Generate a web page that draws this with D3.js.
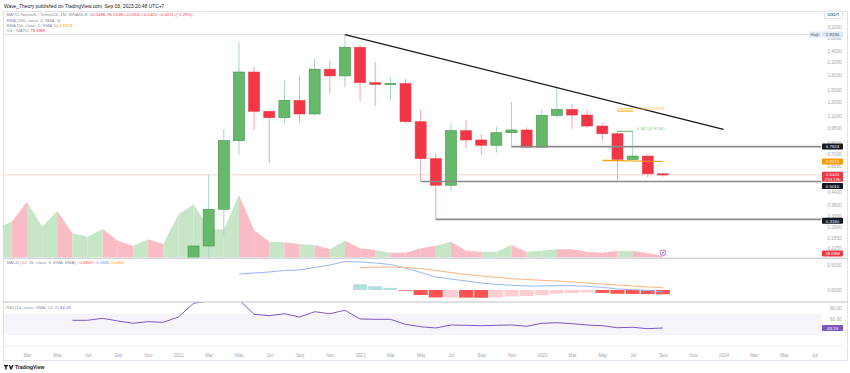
<!DOCTYPE html>
<html>
<head>
<meta charset="utf-8">
<script src="https://d3js.org/d3.v7.min.js"></script>
<style>
body { margin: 0; background: #fff; }
svg text { font-family: "Liberation Sans", Arial, sans-serif; }
.ax path, .ax line { display: none; }
</style>
</head>
<body>
<script>
// monthly bars, Jan 2020 .. Sep 2023 (index 0..44)
var months = ["2020-01","2020-02","2020-03","2020-04","2020-05","2020-06","2020-07","2020-08","2020-09","2020-10","2020-11","2020-12",
  "2021-01","2021-02","2021-03","2021-04","2021-05","2021-06","2021-07","2021-08","2021-09","2021-10","2021-11","2021-12",
  "2022-01","2022-02","2022-03","2022-04","2022-05","2022-06","2022-07","2022-08","2022-09","2022-10","2022-11","2022-12",
  "2023-01","2023-02","2023-03","2023-04","2023-05","2023-06","2023-07","2023-08","2023-09"];
var open  = [0.0146,0.0195,0.0200,0.0105,0.0142,0.0180,0.0160,0.0220,0.0290,0.0210,0.0140,0.0190,
  0.0180,0.038,0.231,0.359,0.818,1.865,1.164,1.078,1.328,1.127,1.93,1.78,
  2.51,1.64,1.608,1.625,1.027,0.659,0.479,0.922,0.825,0.774,0.90,0.93,
  0.757,1.109,1.19,1.113,0.975,0.889,0.654,0.68,0.5496];
var high  = [0.022,0.029,0.021,0.015,0.021,0.020,0.023,0.033,0.030,0.022,0.022,0.022,
  0.045,0.232,0.542,0.941,2.68,1.98,1.17,1.69,1.785,2.20,2.14,2.923,
  2.58,2.10,1.75,1.72,1.18,0.70,1.007,1.05,0.888,0.97,1.30,0.96,
  1.19,1.55,1.27,1.19,1.01,0.90,0.9138,0.70,0.5538];
var low   = [0.014,0.018,0.0065,0.0095,0.013,0.015,0.015,0.021,0.018,0.013,0.013,0.015,
  0.016,0.036,0.17,0.261,0.689,0.93,0.623,1.008,1.02,1.10,1.444,1.55,
  1.306,1.245,1.32,1.008,0.501,0.318,0.449,0.749,0.688,0.71,0.7624,0.745,
  0.75,1.074,0.942,0.95,0.818,0.506,0.65,0.525,0.5313];
var close = [0.0195,0.0200,0.0105,0.0142,0.0180,0.0160,0.0220,0.0290,0.0210,0.0140,0.0190,0.0180,
  0.038,0.231,0.359,0.818,1.865,1.164,1.078,1.328,1.127,1.93,1.78,2.51,
  1.64,1.608,1.625,1.027,0.659,0.479,0.922,0.825,0.774,0.90,0.93,0.757,
  1.109,1.19,1.113,0.975,0.889,0.654,0.68,0.5496,0.5425];
// volume, millions of MATIC
var volume = [1475,1790,2790,1540,2325,1210,1040,1425,840,575,910,675,
  2150,2650,1475,1400,3125,1375,790,760,660,625,410,840,
  460,375,240,240,460,590,790,340,290,290,625,290,
  340,410,410,290,240,340,340,210,78.69];

// EMA 50 starts May 2023 (index 40)
var emaFrom = 40;
var ema50 = [0.646,0.644,0.641,0.639,0.6374];

// MACD line from May 2021 (16), signal + histogram from Jan 2022 (24)
var macdFrom = 16;
var macdLine = [0.32,0.34,0.36,0.39,0.40,0.45,0.50,0.57,
  0.56,0.54,0.51,0.44,0.35,0.26,0.22,0.18,0.14,0.114,0.094,0.08,
  0.08,0.086,0.086,0.074,0.054,0.02,0.006,-0.01,-0.0395];
var sigFrom = 24;
var signalLine = [0.446,0.456,0.46,0.45,0.43,0.39,0.35,0.31,0.28,0.254,0.226,0.21,
  0.194,0.18,0.16,0.14,0.12,0.10,0.08,0.06,0.0454];
var histo = [0.114,0.075,0.042,-0.015,-0.10,-0.15,-0.15,-0.152,-0.155,-0.15,-0.13,-0.12,
  -0.105,-0.075,-0.06,-0.048,-0.058,-0.075,-0.078,-0.082,-0.0849];

// RSI from Jun 2020 (5)
var rsiFrom = 5;
var rsi = [57.6,57.6,61.3,56.3,52.0,55.0,53.8,
  63.7,89.3,93.5,95.2,96.0,68.8,66.2,69.9,63.7,73.6,69.9,76.3,
  60.0,59.4,59.4,50.1,45.6,43.2,48.8,48.2,47.5,48.2,48.8,46.4,
  52.0,53.1,51.2,48.8,47.5,43.7,44.5,41.9,43.19];

// drawings
var trendLine = [{i: 23, p: 2.923}, {i: 48, p: 0.937}];
var levels = [{i: 34, p: 0.7624, t: "0.7624"}, {i: 28, p: 0.5010, t: "0.5010"}, {i: 29, p: 0.3180, t: "0.3180"}];
var fibLevels = [{r: "0.382", p: 0.9138, c: "#81c784", label: true},
                 {r: "0.618", p: 1.1659, c: "#f5b83d", label: true},
                 {r: "0.65", p: 1.2, c: "#f5c94a", label: false}];
var fibFrom = 41, fibTo = 42;

// 0.5000 sits behind the last-price tags, so it is left out
var priceTicks = [3.2,2.8,2.4,2.1,1.8,1.5,1.3,1.1,0.95,0.8,0.7,0.6,0.44,0.38,0.33,0.29,0.255,0.225];
var timeLabels = ["Mar","May","Jul","Sep","Nov","2021","Mar","May","Jul","Sep","Nov","2022","Mar","May","Jul","Sep","Nov",
  "2023","Mar","May","Jul","Sep","Nov","2024","Mar","May","Jul"];

var paneL = 3, paneR = 821;

var svg = d3.select("body").append("svg").attr("width", 850).attr("height", 373);

var x = d3.scaleLinear().domain([0, 44]).range([-3.3, 662.9]);
var y = d3.scaleLog().domain([0.2, 3.4]).range([258, 22]);
var yVol = d3.scaleLinear().domain([0, 3125]).range([257.5, 195]);
var yMacd = d3.scaleLinear().domain([-0.2, 0.7]).range([300, 255]);
var yRsi = d3.scaleLinear().domain([30, 80]).range([335.05, 308.3]);

var defs = svg.append("defs");
function clip(id, y0, y1) {
  defs.append("clipPath").attr("id", id).append("rect")
    .attr("x", paneL).attr("y", y0).attr("width", paneR - paneL).attr("height", y1 - y0);
}
clip("cMain", 12, 257.5);
clip("cMacd", 259, 301.5);
clip("cRsi", 302.5, 345);

// frame + separators
svg.append("rect").attr("x", 3.5).attr("y", 11.5).attr("width", 844).attr("height", 349)
  .attr("fill", "none").attr("stroke", "#e0e3eb");
[258.3, 302].forEach(function(v) {
  svg.append("line").attr("x1", 3).attr("x2", 848).attr("y1", v).attr("y2", v)
    .attr("stroke", "#d1d4dc").attr("stroke-width", 1.6);
});
svg.append("line").attr("x1", 3).attr("x2", 848).attr("y1", 346).attr("y2", 346).attr("stroke", "#eef0f4");

// header
svg.append("text").attr("x", 4).attr("y", 7.5).attr("font-size", 4.9).attr("fill", "#131722")
  .text("Wave_Theory published on TradingView.com, Sep 03, 2023 20:48 UTC+7");

var lg = svg.append("g").attr("font-size", 4.3);
var t1 = lg.append("text").attr("x", 6.5).attr("y", 16.3).attr("fill", "#8a8e99");
t1.append("tspan").text("MATIC Network / TetherUS, 1M, BINANCE  ");
[["O", "0.5496"], ["H", "0.5538"], ["L", "0.5313"], ["C", "0.5425"]].forEach(function(p) {
  t1.append("tspan").text(p[0]);
  t1.append("tspan").attr("fill", "#f23645").text(p[1] + " ");
});
t1.append("tspan").attr("fill", "#f23645").text("\u22120.0071 (\u22121.29%)");
lg.append("text").attr("x", 6.5).attr("y", 21.5).attr("fill", "#8a8e99").text("EMA (200, close, 0, SMA, 5)");
var t3 = lg.append("text").attr("x", 6.5).attr("y", 26.8).attr("fill", "#8a8e99");
t3.append("tspan").text("EMA (50, close, 0, SMA, 5) ");
t3.append("tspan").attr("fill", "#ff9800").text("0.6374");
var t4 = lg.append("text").attr("x", 6.5).attr("y", 32).attr("fill", "#8a8e99");
t4.append("tspan").text("Vol \u00b7 MATIC ");
t4.append("tspan").attr("fill", "#f23645").text("78.69M");

// main pane
var gMain = svg.append("g").attr("clip-path", "url(#cMain)");

// volume as coloured segments
var volArea = d3.area().x(function(d) { return x(d); })
  .y0(yVol(0)).y1(function(d) { return yVol(volume[d]); });
d3.range(1, volume.length).forEach(function(i) {
  var up = close[i] >= open[i];
  gMain.append("path").attr("d", volArea([i - 1, i]))
    .attr("fill", up ? "#c6e6c7" : "#f9bcc4");
});

// high & last price lines
gMain.append("line").attr("x1", paneL).attr("x2", paneR).attr("y1", y(2.923)).attr("y2", y(2.923))
  .attr("stroke", "#dedfe3").attr("stroke-width", 1);
gMain.append("line").attr("x1", paneL).attr("x2", paneR).attr("y1", y(0.5425)).attr("y2", y(0.5425))
  .attr("stroke", "#f1d8d0").attr("stroke-width", 1);

// candles
var bars = d3.range(0, months.length);
var bw = 11;
gMain.selectAll(".wick").data(bars).enter().append("line")
  .attr("x1", function(i) { return x(i); }).attr("x2", function(i) { return x(i); })
  .attr("y1", function(i) { return y(high[i]); }).attr("y2", function(i) { return y(low[i]); })
  .attr("stroke", function(i) { return close[i] >= open[i] ? "#9fd6cc" : "#f5a3ad"; })
  .attr("stroke-width", 1);
gMain.selectAll(".body").data(bars).enter().append("rect")
  .attr("x", function(i) { return x(i) - bw / 2; })
  .attr("width", bw)
  .attr("y", function(i) { return y(Math.max(open[i], close[i])); })
  .attr("height", function(i) { return Math.max(1.2, Math.abs(y(open[i]) - y(close[i]))); })
  .attr("fill", function(i) { return close[i] >= open[i] ? "#66b96a" : "#f23645"; })
  .attr("stroke", function(i) { return close[i] >= open[i] ? "#43914a" : "#e8404e"; })
  .attr("stroke-width", 0.6);

// horizontal rays
levels.forEach(function(l) {
  gMain.append("line").attr("x1", x(l.i)).attr("x2", paneR).attr("y1", y(l.p)).attr("y2", y(l.p))
    .attr("stroke", "#8a8a8a").attr("stroke-width", 1.7);
});

// trend line
gMain.append("line")
  .attr("x1", x(trendLine[0].i)).attr("y1", y(trendLine[0].p))
  .attr("x2", x(trendLine[1].i)).attr("y2", y(trendLine[1].p))
  .attr("stroke", "#131722").attr("stroke-width", 1.3);

// fib levels
fibLevels.forEach(function(f) {
  gMain.append("line").attr("x1", x(fibFrom) - 0.5).attr("x2", x(fibTo) + 0.5)
    .attr("y1", y(f.p)).attr("y2", y(f.p)).attr("stroke", f.c).attr("stroke-width", 1.2);
  if (f.label) {
    gMain.append("text").attr("x", x(fibTo) + 4).attr("y", y(f.p) - 1.5)
      .attr("font-size", 4.3).attr("fill", f.c).text(f.r + " (" + f.p.toFixed(4) + ")");
  }
});

// EMA 50
var emaLine = d3.line().x(function(d, k) { return x(emaFrom + k); }).y(function(d) { return y(d); });
gMain.append("path").attr("d", emaLine(ema50)).attr("fill", "none")
  .attr("stroke", "#ff9800").attr("stroke-width", 1.1);

// event marker
gMain.append("circle").attr("cx", x(44)).attr("cy", 252.7).attr("r", 2.8)
  .attr("fill", "#fff").attr("stroke", "#ab47bc").attr("stroke-width", 0.8);
gMain.append("circle").attr("cx", x(44)).attr("cy", 252.7).attr("r", 0.9).attr("fill", "#ab47bc");

// MACD pane
var gM = svg.append("g").attr("clip-path", "url(#cMacd)");
gM.selectAll(".h").data(histo).enter().append("rect")
  .attr("x", function(d, k) { return x(sigFrom + k) - 7; })
  .attr("width", 14)
  .attr("y", function(d) { return Math.min(yMacd(d), yMacd(0)); })
  .attr("height", function(d) { return Math.abs(yMacd(d) - yMacd(0)); })
  .attr("fill", function(d, k) {
    var prev = k > 0 ? histo[k - 1] : Infinity;
    if (d >= 0) return d >= prev ? "#26a69a" : "#b2dfdb";
    return d < prev ? "#ff5252" : "#ffcdd2";
  });
var mLine = d3.line().x(function(d, k) { return x(macdFrom + k); }).y(function(d) { return yMacd(d); });
var sLine = d3.line().x(function(d, k) { return x(sigFrom + k); }).y(function(d) { return yMacd(d); });
gM.append("path").attr("d", mLine(macdLine)).attr("fill", "none").attr("stroke", "#9bb4f9").attr("stroke-width", 1);
gM.append("path").attr("d", sLine(signalLine)).attr("fill", "none").attr("stroke", "#fbb27c").attr("stroke-width", 1);

var mt = svg.append("text").attr("x", 6.5).attr("y", 264).attr("font-size", 4.3).attr("fill", "#8a8e99");
mt.append("tspan").text("MACD (12, 26, close, 9, EMA, EMA) ");
mt.append("tspan").attr("fill", "#ff5252").text("\u22120.0849 ");
mt.append("tspan").attr("fill", "#6c8ef7").text("\u22120.0395 ");
mt.append("tspan").attr("fill", "#ff9800").text("0.0454");

// RSI pane
var gR = svg.append("g").attr("clip-path", "url(#cRsi)");
gR.append("rect").attr("x", paneL).attr("width", paneR - paneL)
  .attr("y", yRsi(70)).attr("height", yRsi(30) - yRsi(70)).attr("fill", "rgba(126,87,194,0.07)");
var rLine = d3.line().x(function(d, k) { return x(rsiFrom + k); }).y(function(d) { return yRsi(d); });
gR.append("path").attr("d", rLine(rsi)).attr("fill", "none").attr("stroke", "#7e57c2").attr("stroke-width", 1);

var rt = svg.append("text").attr("x", 6.5).attr("y", 309.3).attr("font-size", 4.3).attr("fill", "#8a8e99");
rt.append("tspan").text("RSI (14, close, SMA, 14, 2) ");
rt.append("tspan").attr("fill", "#7e57c2").text("43.19");

// right scales
function rightAxis(scale, vals, fmt) {
  var g = svg.append("g").attr("class", "ax").attr("transform", "translate(" + paneR + ",0)")
    .call(d3.axisRight(scale).tickValues(vals).tickFormat(fmt).tickSize(0));
  g.selectAll("text").attr("x", 20.5).attr("text-anchor", "end")
    .attr("font-size", 4.6).attr("fill", "#a3a6af").attr("font-family", "Liberation Sans, Arial, sans-serif");
}
rightAxis(y, priceTicks, d3.format(".4f"));
rightAxis(yMacd, [0.5, 0], d3.format(".4f"));
rightAxis(yRsi, [80, 60], d3.format(".2f"));

// time axis
var tg = svg.append("g").attr("class", "ax").attr("transform", "translate(0,351)")
  .call(d3.axisBottom(x).tickValues(d3.range(2, 56, 2)).tickSize(0)
    .tickFormat(function(d, k) { return timeLabels[k]; }));
tg.selectAll("text").attr("font-size", 4.6).attr("fill", "#a3a6af").attr("font-family", "Liberation Sans, Arial, sans-serif");

// price tags
function tag(cy, lines, bg, fg) {
  var h = lines.length > 1 ? 10 : 6;
  svg.append("rect").attr("x", 822).attr("y", cy - h / 2).attr("width", 21).attr("height", h)
    .attr("rx", 0.8).attr("fill", bg);
  lines.forEach(function(s, k) {
    svg.append("text").attr("x", 832.5).attr("y", cy - h / 2 + 4.7 + k * 4.6)
      .attr("text-anchor", "middle").attr("font-size", 4.4).attr("fill", fg).text(s);
  });
}
// high label
svg.append("rect").attr("x", 809).attr("y", y(2.923) - 3).attr("width", 12).attr("height", 6).attr("fill", "#dbe9f8");
svg.append("text").attr("x", 815).attr("y", y(2.923) + 1.6).attr("text-anchor", "middle")
  .attr("font-size", 4.4).attr("fill", "#5b6270").text("High");
tag(y(2.923), ["2.9230"], "#dbe9f8", "#3c4250");
tag(y(0.7624), ["0.7624"], "#131722", "#fff");
tag(y(0.6374), ["0.6374"], "#ff9800", "#fff");
tag(176.7, ["0.5425", "27d 13h"], "#f23645", "#fff");
tag(186, ["0.5010"], "#131722", "#fff");
tag(220.8, ["0.3180"], "#131722", "#fff");
tag(253.4, ["78.69M"], "#f23645", "#fff");
tag(yRsi(43.19), ["43.19"], "#7e57c2", "#fff");

// currency box
svg.append("rect").attr("x", 824.5).attr("y", 11).attr("width", 18).attr("height", 7.5).attr("rx", 1.5)
  .attr("fill", "#fff").attr("stroke", "#e0e3eb");
svg.append("text").attr("x", 833.5).attr("y", 16.4).attr("text-anchor", "middle")
  .attr("font-size", 4.4).attr("fill", "#131722").text("USDT");

// logo
svg.append("path").attr("d", "M4,365 h4 v1.3 h-1.3 v3.2 h-1.4 v-3.2 h-1.3 z M8.6,365 h1.5 l1,2.6 l1,-2.6 h1.5 l-1.8,4.5 h-1.4 z")
  .attr("fill", "#131722");
svg.append("text").attr("x", 15).attr("y", 369.4).attr("font-size", 5).attr("font-weight", "bold")
  .attr("fill", "#131722").text("TradingView");
</script>
</body>
</html>
